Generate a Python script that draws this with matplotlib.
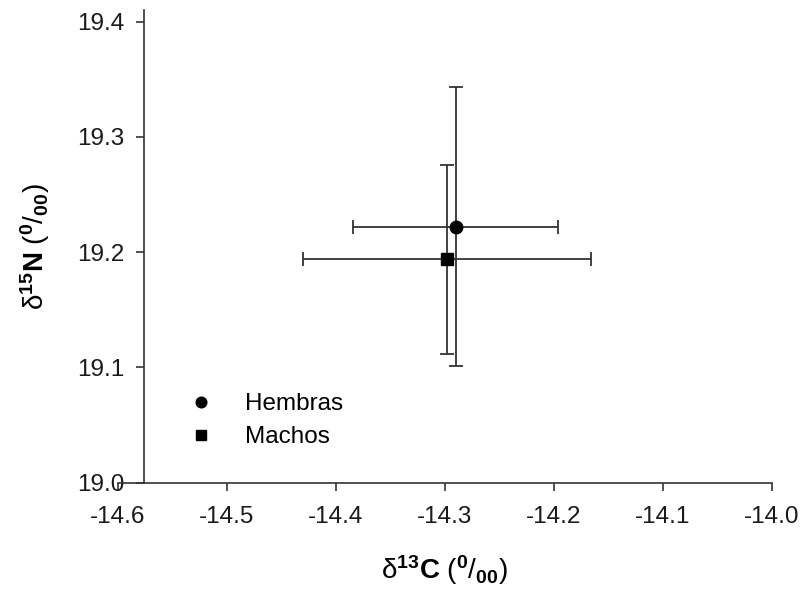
import matplotlib
matplotlib.use("Agg")
import matplotlib.pyplot as plt

# mean +/- error
groups = ["Hembras", "Machos"]
markers = ["o", "s"]
d13c = [-14.290, -14.298]
d13c_err = [0.094, 0.132]
d15n = [19.222, 19.194]
d15n_err = [0.121, 0.082]

x_ticks = [-14.6, -14.5, -14.4, -14.3, -14.2, -14.1, -14.0]
y_ticks = [19.0, 19.1, 19.2, 19.3, 19.4]

plt.rcParams['font.family'] = ['Liberation Sans', 'DejaVu Sans']
plt.rcParams['mathtext.fontset'] = 'custom'
plt.rcParams['mathtext.rm'] = 'Liberation Sans'
plt.rcParams['mathtext.bf'] = 'Liberation Sans:bold'
plt.rcParams['mathtext.it'] = 'Liberation Sans:italic'

fig = plt.figure(figsize=(8.04, 5.97), dpi=100)
ax = fig.add_axes([0.1464, 0.1915, 0.8138, 0.7917])

line_col = "#333333"
for i in range(len(groups)):
    ax.errorbar(d13c[i], d15n[i], xerr=d13c_err[i], yerr=d15n_err[i],
                fmt=markers[i], color="black", ms=9, ecolor=line_col,
                elinewidth=1.3, capsize=5, capthick=1.3, label=groups[i],
                zorder=3)

ax.set_xlim(-14.6, -14.0)
ax.set_ylim(19.0, 19.41)
ax.set_xticks(x_ticks)
ax.set_yticks(y_ticks)
ax.set_xticklabels([f"{v:.1f}" for v in x_ticks])
ax.set_yticklabels([f"{v:.1f}" for v in y_ticks])

ax.spines['top'].set_visible(False)
ax.spines['right'].set_visible(False)
ax.spines['left'].set_position(('data', -14.576))
for s in ['left', 'bottom']:
    ax.spines[s].set_color(line_col)
    ax.spines[s].set_linewidth(1.2)
ax.tick_params(axis='both', direction='out', length=6, width=1.2,
               color=line_col, labelsize=17.5, labelcolor="#1a1a1a")
ax.tick_params(axis='x', pad=11)
ax.tick_params(axis='y', pad=8)

ax.set_xlabel(r'$\mathrm{\delta}^{\mathbf{13}}\mathbf{C}\ (^{\mathbf{0}}/_{\mathbf{00}})$',
              fontsize=20, labelpad=18)
ax.set_ylabel(r'$\mathrm{\delta}^{\mathbf{15}}\mathbf{N}\ (^{\mathbf{0}}/_{\mathbf{00}})$',
              fontsize=20, labelpad=18)

handles, labels = ax.get_legend_handles_labels()
handles = [h[0] for h in handles]
ax.legend(handles, labels, loc='upper left', bbox_to_anchor=(0.075, 0.235),
          frameon=False, fontsize=17.5, handletextpad=1.3, labelspacing=0.45,
          markerscale=0.85, handlelength=1.0)

fig.savefig("out.png", dpi=100)
